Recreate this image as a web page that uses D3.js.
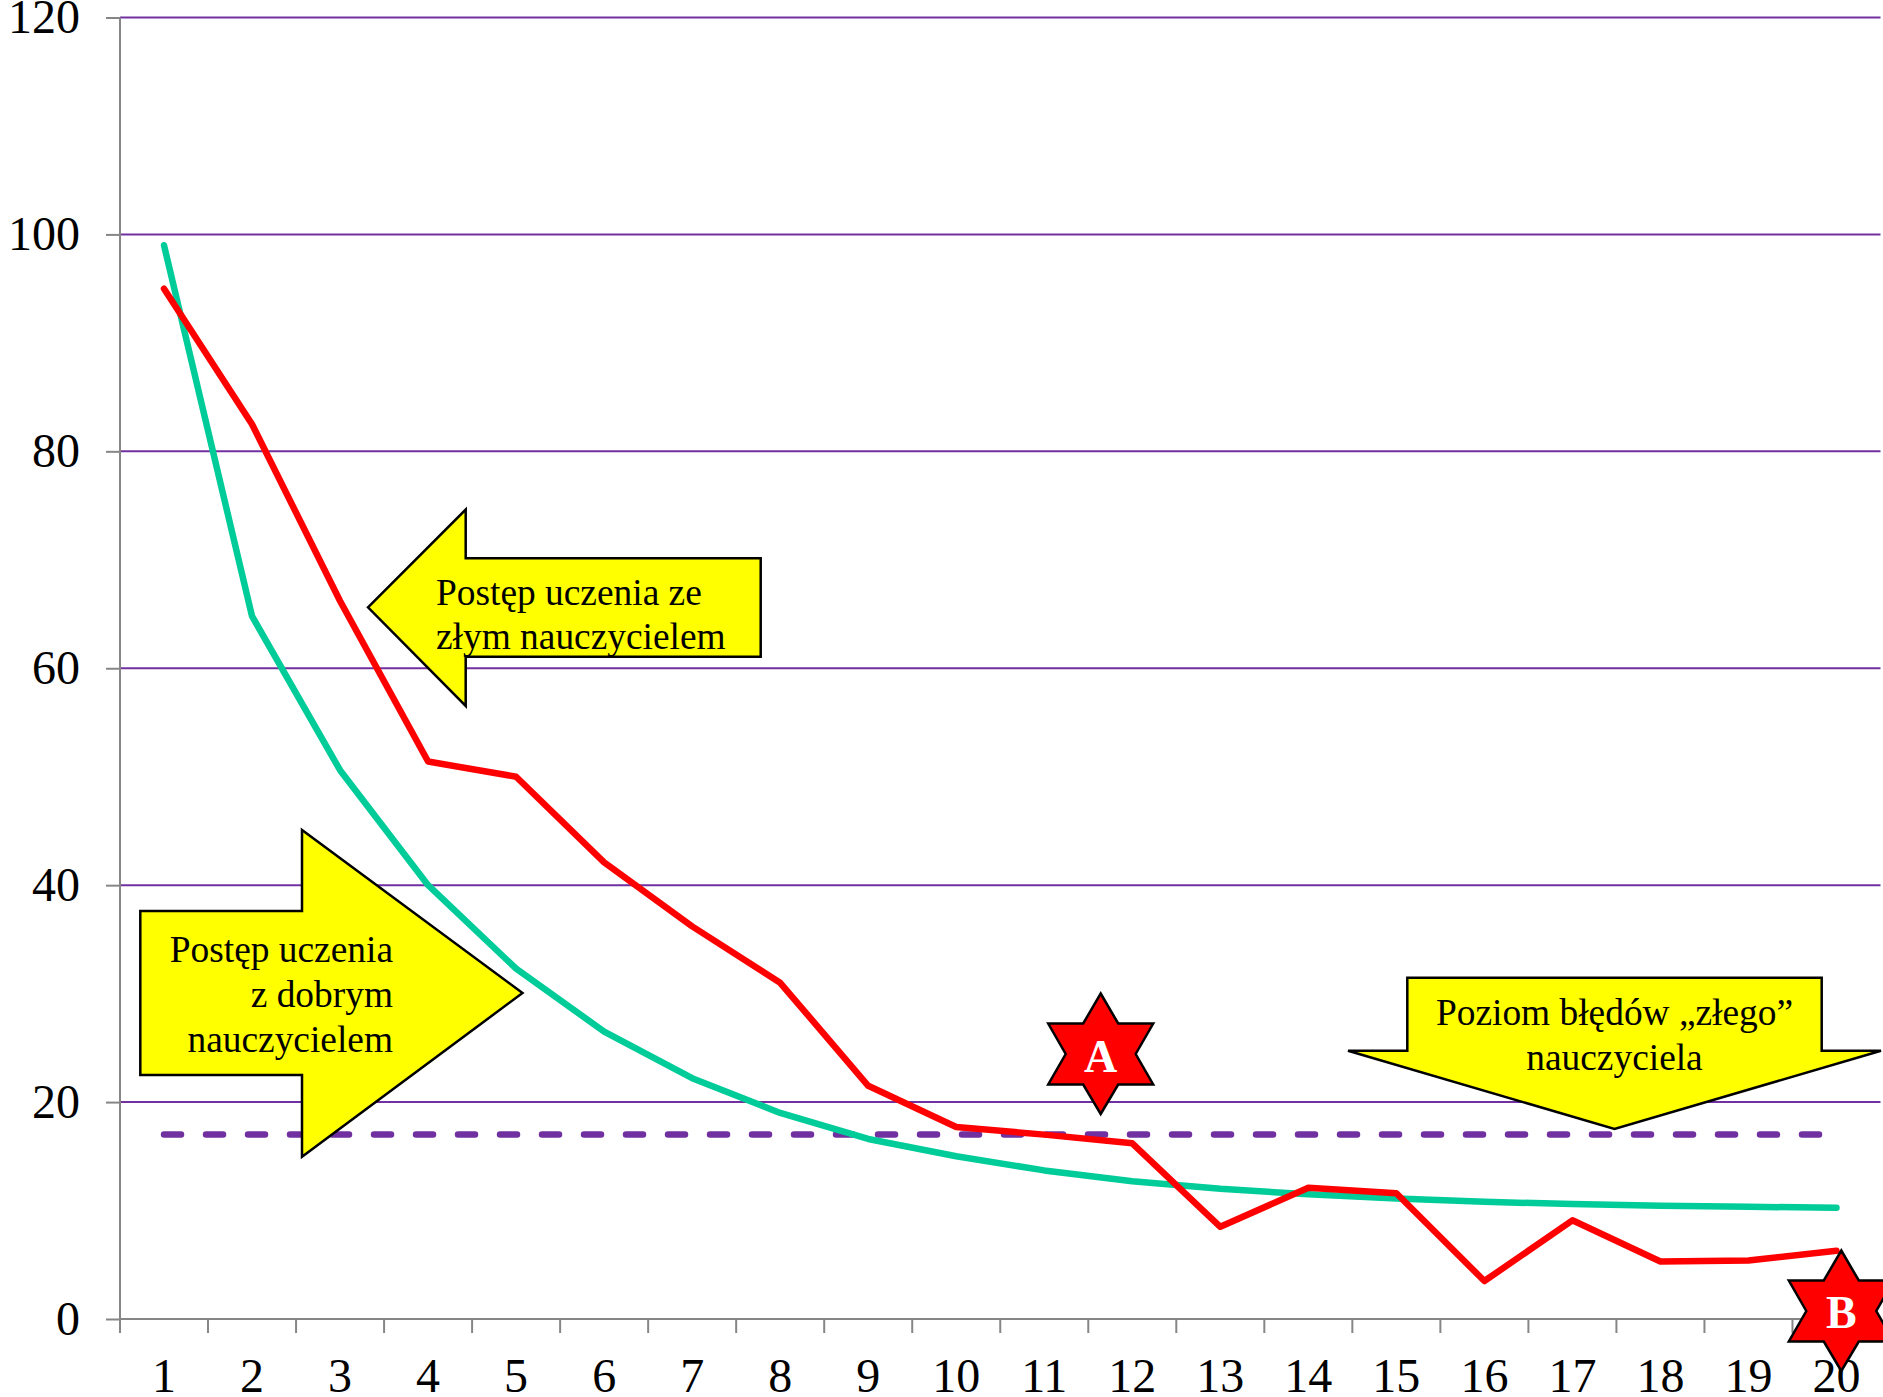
<!DOCTYPE html>
<html>
<head>
<meta charset="utf-8">
<script src="https://cdn.jsdelivr.net/npm/d3@7"></script>
<style>
  html, body { margin: 0; padding: 0; background: #fff; }
  svg { display: block; }
  text { font-family: "Liberation Serif", "Times New Roman", serif; }
</style>
</head>
<body>
<div id="chart"></div>
<script>
const categories = d3.range(1, 21);
const yTicks = [0, 20, 40, 60, 80, 100, 120];
const badTeacher = [95, 82.5, 66.2, 51.4, 50, 42.1, 36.2, 31, 21.5, 17.7, 17, 16.2, 8.5, 12.1, 11.6, 3.5, 9.1, 5.3, 5.4, 6.3];
const goodTeacher = [99, 64.8, 50.6, 40, 32.3, 26.5, 22.2, 19, 16.6, 15, 13.7, 12.7, 12, 11.5, 11.1, 10.8, 10.6, 10.45, 10.35, 10.25];
const badLevel = categories.map(() => 17);

const W = 1883, H = 1397;
const margin = { top: 17.5, right: 2.5, bottom: 78, left: 120 };
const tickFont = '48px';

const x = d3.scaleBand().domain(categories).range([margin.left, W - margin.right]);
const y = d3.scaleLinear().domain([0, 120]).range([H - margin.bottom, margin.top]);

const svg = d3.select('#chart').append('svg')
  .attr('width', W)
  .attr('height', H)
  .attr('viewBox', `0 0 ${W} ${H}`);

// Gridlines
svg.append('g')
  .selectAll('line')
  .data(yTicks.filter(d => d > 0))
  .join('line')
  .attr('x1', margin.left)
  .attr('x2', W - margin.right)
  .attr('y1', d => y(d))
  .attr('y2', d => y(d))
  .attr('stroke', '#7030a0')
  .attr('stroke-width', 2);

// Y axis
svg.append('g')
  .attr('transform', `translate(${margin.left},0)`)
  .call(d3.axisLeft(y).tickValues(yTicks).tickSize(14).tickPadding(26))
  .call(a => a.selectAll('.domain,line').attr('stroke', '#868686').attr('stroke-width', 2))
  .call(a => a.select('.domain').attr('d', `M0,${y(120)}V${y(0)}`))
  .selectAll('text')
  .attr('font-size', tickFont)
  .attr('font-family', '"Liberation Serif"')
  .attr('fill', '#000');

// X axis: ticks sit between the categories
const xAxis = svg.append('g').attr('transform', `translate(0,${y(0)})`);
xAxis.append('line')
  .attr('x1', margin.left).attr('x2', W - margin.right)
  .attr('stroke', '#868686').attr('stroke-width', 2);
xAxis.selectAll('.tick')
  .data([...categories.map(d => x(d)), x.range()[1]])
  .join('line')
  .attr('class', 'tick')
  .attr('x1', d => d).attr('x2', d => d)
  .attr('y2', 14)
  .attr('stroke', '#868686').attr('stroke-width', 2);
xAxis.selectAll('text')
  .data(categories)
  .join('text')
  .attr('x', d => x(d) + x.bandwidth() / 2)
  .attr('y', 72.5)
  .attr('text-anchor', 'middle')
  .attr('font-size', tickFont)
  .attr('fill', '#000')
  .text(d => d);

// Lines
const line = d3.line()
  .x((d, i) => x(categories[i]) + x.bandwidth() / 2)
  .y(d => y(d));

const series = [
  { values: badLevel, color: '#7030a0', dash: '17 25' },
  { values: goodTeacher, color: '#00cc99' },
  { values: badTeacher, color: '#ff0000' }
];

series.forEach(s => {
  svg.append('path')
    .attr('d', line(s.values))
    .attr('fill', 'none')
    .attr('stroke', s.color)
    .attr('stroke-width', 6.5)
    .attr('stroke-linecap', 'round')
    .attr('stroke-linejoin', 'round')
    .attr('stroke-dasharray', s.dash || null);
});

// Yellow callout arrows
function callout(points, lines, opts) {
  svg.append('polygon')
    .attr('points', points.map(p => p.join(',')).join(' '))
    .attr('fill', '#ffff00')
    .attr('stroke', '#000')
    .attr('stroke-width', 2.5)
    .attr('stroke-linejoin', 'miter');
  lines.forEach((t, i) => {
    svg.append('text')
      .attr('x', opts.x)
      .attr('y', opts.y + i * opts.step)
      .attr('text-anchor', opts.anchor)
      .attr('font-size', '37.4px')
      .attr('fill', '#000')
      .text(t);
  });
}

callout(
  [[368, 607.3], [465.7, 509.5], [465.7, 558.3], [760.7, 558.3], [760.7, 656.7], [465.7, 656.7], [465.7, 706]],
  ['Postęp uczenia ze', 'złym nauczycielem'],
  { x: 436, y: 605, step: 44, anchor: 'start' }
);
callout(
  [[140.3, 911], [302, 911], [302, 830], [522.5, 993], [302, 1156.8], [302, 1075], [140.3, 1075]],
  ['Postęp uczenia', 'z dobrym', 'nauczycielem'],
  { x: 393, y: 962, step: 45, anchor: 'end' }
);
callout(
  [[1407.3, 977.7], [1821.7, 977.7], [1821.7, 1050.7], [1881, 1050.7], [1614.5, 1129], [1348, 1050.7], [1407.3, 1050.7]],
  ['Poziom błędów „złego”', 'nauczyciela'],
  { x: 1614.5, y: 1025, step: 44.5, anchor: 'middle' }
);

// Red stars
function star(cx, top, label, baseline) {
  const hw = 52.5;
  const pts = [
    [0, 0], [17.5, 30], [hw, 30], [35, 60.5], [hw, 91], [17.5, 91],
    [0, 120.5], [-17.5, 91], [-hw, 91], [-35, 60.5], [-hw, 30], [-17.5, 30]
  ];
  svg.append('polygon')
    .attr('points', pts.map(p => [cx + p[0], top + p[1]].join(',')).join(' '))
    .attr('fill', '#ff0000')
    .attr('stroke', '#000')
    .attr('stroke-width', 2.5);
  svg.append('text')
    .attr('x', cx)
    .attr('y', baseline)
    .attr('text-anchor', 'middle')
    .attr('font-size', '46px')
    .attr('font-weight', 'bold')
    .attr('fill', '#fff')
    .text(label);
}

star(1100.7, 993.5, 'A', 1071.7);
star(1841.3, 1250.5, 'B', 1328);
</script>
</body>
</html>
